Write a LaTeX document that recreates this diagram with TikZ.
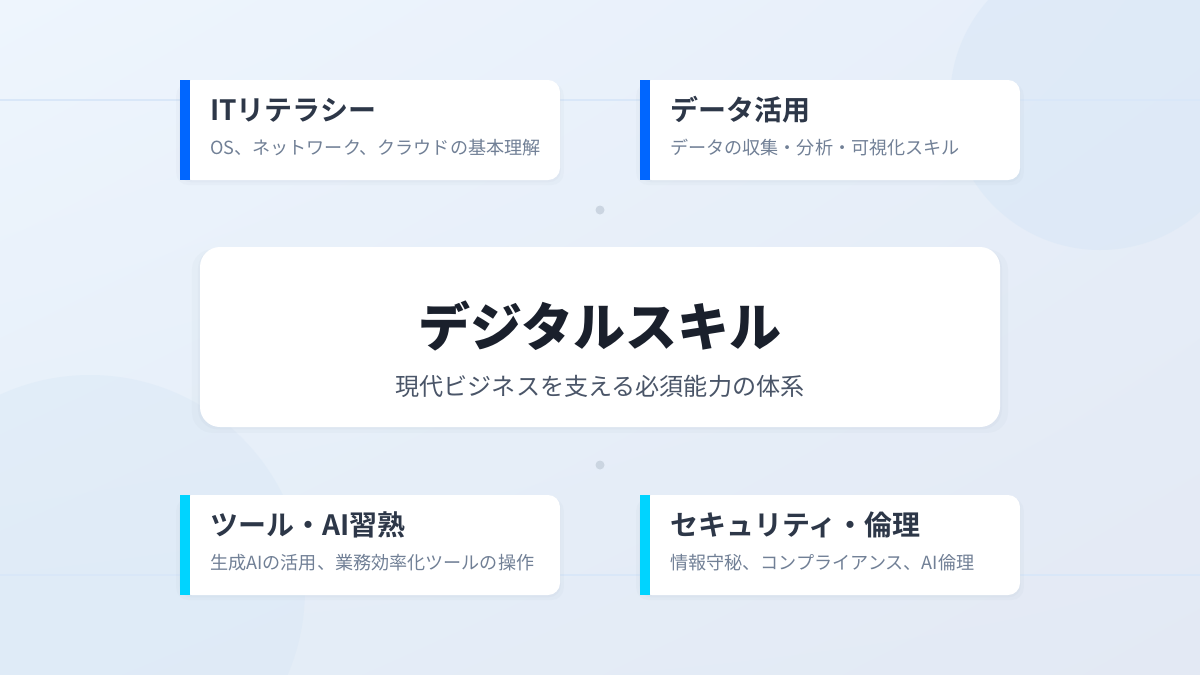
\documentclass[tikz,border=0pt]{standalone}
\usepackage{fontspec}
\setmainfont{Noto Sans CJK JP}[BoldFont={Noto Sans CJK JP Bold}]
\newfontfamily\heavyfont{Noto Sans CJK JP Black}
\usetikzlibrary{shadows,shadings}

\definecolor{bgtl}{HTML}{EEF5FD}
\definecolor{bgtr}{HTML}{E6EEF9}
\definecolor{bgbl}{HTML}{E4EEF8}
\definecolor{bgbr}{HTML}{E3E9F4}
\definecolor{blobcolor}{HTML}{D6E6F6}
\definecolor{gridcolor}{HTML}{D9E7F8}
\definecolor{shadowcolor}{HTML}{94A3B8}
\definecolor{dotcolor}{HTML}{CBD5E1}
\definecolor{accentblue}{HTML}{0066FF}
\definecolor{accentcyan}{HTML}{00D4FF}
\definecolor{titlecolor}{HTML}{2D3748}
\definecolor{subcolor}{HTML}{718096}
\definecolor{maincolor}{HTML}{1A202C}
\definecolor{mainsubcolor}{HTML}{4A5568}

\tikzset{
  card/.style={fill=white,rounded corners=12pt,minimum width=380pt,minimum height=100pt,inner sep=0pt,
    general shadow={fill=shadowcolor,opacity=0.05,shadow yshift=-4pt,shadow scale=1.02},
    general shadow={fill=shadowcolor,opacity=0.06,shadow yshift=-2pt,shadow scale=1.005}},
  maincard/.style={card,rounded corners=20pt,minimum width=800pt,minimum height=180pt},
  cardtitle/.style={anchor=west,inner sep=0pt,text=titlecolor,font=\fontsize{28}{32}\selectfont\bfseries},
  cardtext/.style={anchor=west,inner sep=0pt,text=subcolor,font=\fontsize{18.1}{22}\selectfont},
  dot/.style={circle,fill=dotcolor,minimum size=9pt,inner sep=0pt}
}

\begin{document}
\begin{tikzpicture}[x=1pt,y=-1pt]
\useasboundingbox (0,0) rectangle (1200,675);
\shade[upper left=bgtl,upper right=bgtr,lower left=bgbl,lower right=bgbr] (0,0) rectangle (1200,675);
\fill[blobcolor,opacity=0.45] (1100,100) circle (150);
\fill[blobcolor,opacity=0.35] (90,590) circle (215);
\draw[gridcolor,line width=1.5pt] (0,100) -- (1200,100);
\draw[gridcolor,line width=1.5pt] (0,575) -- (1200,575);

\node[dot] (dottop) at (600,210) {};
\node[dot] (dotbottom) at (600,465) {};

\node[maincard] (skill) at (600,337) {};
\node[text=maincolor,font=\fontsize{52}{60}\selectfont\heavyfont] (skilltitle) at (600,326) {デジタルスキル};
\node[text=mainsubcolor,font=\fontsize{24.1}{28}\selectfont] (skillsub) at (600,386) {現代ビジネスを支える必須能力の体系};

\node[card] (it) at (370,130) {};
\fill[accentblue] (180,80) rectangle (190,180);
\node[cardtitle] (ittitle) at (210,110) {ITリテラシー};
\node[cardtext] (itsub) at (210,148) {OS、ネットワーク、クラウドの基本理解};

\node[card] (data) at (830,130) {};
\fill[accentblue] (640,80) rectangle (650,180);
\node[cardtitle] (datatitle) at (670,110) {データ活用};
\node[cardtext] (datasub) at (670,148) {データの収集・分析・可視化スキル};

\node[card] (tool) at (370,545) {};
\fill[accentcyan] (180,495) rectangle (190,595);
\node[cardtitle] (tooltitle) at (210,525) {ツール・AI習熟};
\node[cardtext] (toolsub) at (210,563) {生成AIの活用、業務効率化ツールの操作};

\node[card] (sec) at (830,545) {};
\fill[accentcyan] (640,495) rectangle (650,595);
\node[cardtitle] (sectitle) at (670,525) {セキュリティ・倫理};
\node[cardtext] (secsub) at (670,563) {情報守秘、コンプライアンス、AI倫理};
\end{tikzpicture}
\end{document}
